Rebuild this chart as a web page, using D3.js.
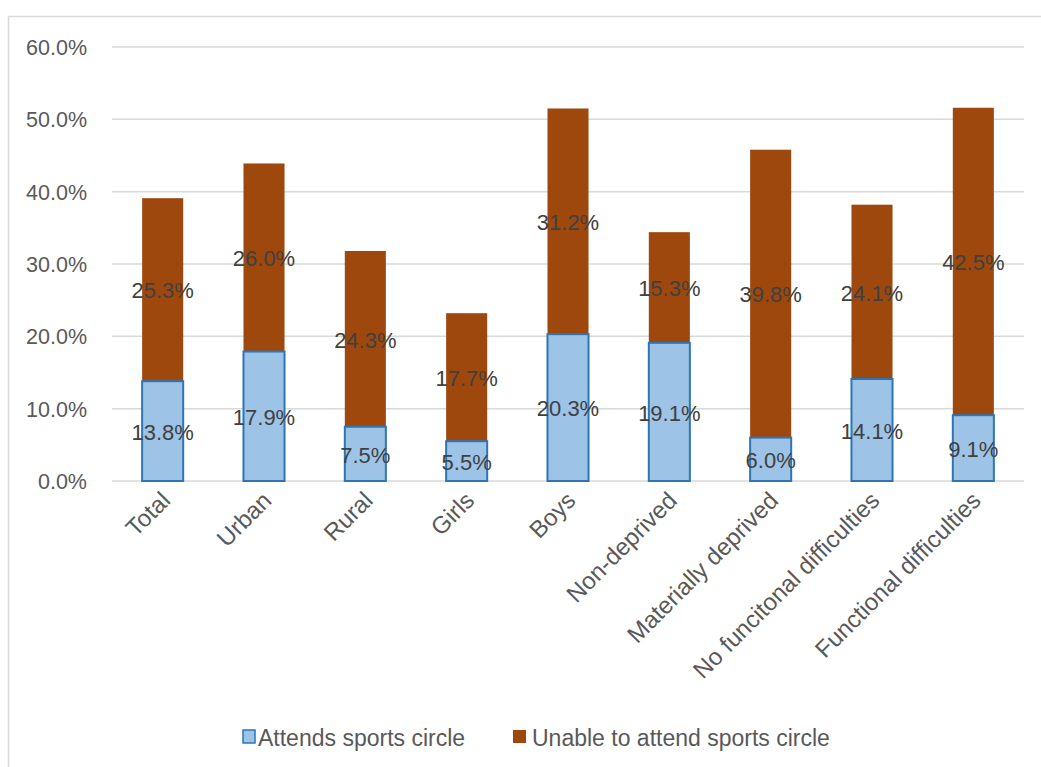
<!DOCTYPE html>
<html><head><meta charset="utf-8">
<script src="https://cdn.jsdelivr.net/npm/d3@7"></script>
<style>body{margin:0;background:#fff;} svg{display:block;}</style>
</head><body>
<svg id="c" width="1041" height="767"></svg>
<script>
const categories = ["Total","Urban","Rural","Girls","Boys","Non-deprived","Materially deprived","No funcitonal difficulties","Functional difficulties"];
const attends = [13.8,17.9,7.5,5.5,20.3,19.1,6.0,14.1,9.1];
const unable = [25.3,26.0,24.3,17.7,31.2,15.3,39.8,24.1,42.5];
const yTicks = [0,10,20,30,40,50,60];
const seriesNames = ["Attends sports circle","Unable to attend sports circle"];

const FONT = "'Liberation Sans', Arial, sans-serif";
const svg = d3.select("#c");
svg.append("rect").attr("x",8.5).attr("y",16.5).attr("width",1100).attr("height",900)
  .attr("fill","#fff").attr("stroke","#d9d9d9").attr("stroke-width",1.5);

const x = d3.scaleBand().domain(categories).range([112,1024]).paddingInner(0.595).paddingOuter(0.2975);
const y = d3.scaleLinear().domain([0,60]).range([481,47]);

const grid = svg.append("g");
grid.selectAll("line").data(yTicks).join("line")
  .attr("x1",112).attr("x2",1024).attr("y1",d=>y(d)).attr("y2",d=>y(d))
  .attr("stroke","#d9d9d9").attr("stroke-width",1.5);

const yAxis = d3.axisLeft(y).tickValues(yTicks).tickSize(0).tickPadding(0).tickFormat(d=>d.toFixed(1)+"%");
const ya = svg.append("g").attr("transform","translate(87,0)").call(yAxis);
ya.select(".domain").remove();
ya.selectAll("text").attr("font-family",FONT).attr("font-size",21.5).attr("fill","#595959").attr("dy","0.35em");

const data = categories.map((c,i)=>({c, a:attends[i], u:unable[i]}));
const stack = d3.stack().keys(["a","u"])(data);

// unable segments
svg.append("g").selectAll("rect").data(stack[1]).join("rect")
  .attr("x",d=>x(d.data.c)).attr("width",x.bandwidth())
  .attr("y",d=>y(d[1])).attr("height",d=>y(d[0])-y(d[1]))
  .attr("fill","#9e480e");
// attends segments
svg.append("g").selectAll("rect").data(stack[0]).join("rect")
  .attr("x",d=>x(d.data.c)).attr("width",x.bandwidth())
  .attr("y",d=>y(d[1])).attr("height",d=>y(d[0])-y(d[1]))
  .attr("fill","#9dc3e6").attr("stroke","#2e75b6").attr("stroke-width",2);

// labels
stack.forEach((s,si)=>{
  svg.append("g").selectAll("text").data(s).join("text")
    .attr("x",d=>x(d.data.c)+x.bandwidth()/2)
    .attr("y",d=>y((d[0]+d[1])/2))
    .attr("dy","0.4em").attr("text-anchor","middle")
    .attr("font-family",FONT).attr("font-size",22).attr("fill","#404040")
    .text(d=>(d[1]-d[0]).toFixed(1)+"%");
});

// x axis labels
const xa = svg.append("g").attr("transform","translate(0,481)")
  .call(d3.axisBottom(x).tickSize(0).tickPadding(0));
xa.select(".domain").remove();
xa.selectAll("text")
  .attr("font-family",FONT).attr("font-size",24).attr("fill","#595959")
  .attr("text-anchor","end").attr("dy",null).attr("y",0)
  .attr("transform","translate(9,21) rotate(-45)");

// legend
const leg = svg.append("g");
leg.append("rect").attr("x",243).attr("y",730).attr("width",12).attr("height",13)
  .attr("fill","#9dc3e6").attr("stroke","#2e75b6").attr("stroke-width",1.5);
leg.append("text").attr("x",258).attr("y",737).attr("dy","0.37em")
  .attr("font-family",FONT).attr("font-size",23).attr("fill","#595959").text(seriesNames[0]);
leg.append("rect").attr("x",513).attr("y",730).attr("width",13).attr("height",13).attr("fill","#9e480e");
leg.append("text").attr("x",532).attr("y",737).attr("dy","0.37em")
  .attr("font-family",FONT).attr("font-size",23).attr("fill","#595959").text(seriesNames[1]);
</script>
</body></html>
